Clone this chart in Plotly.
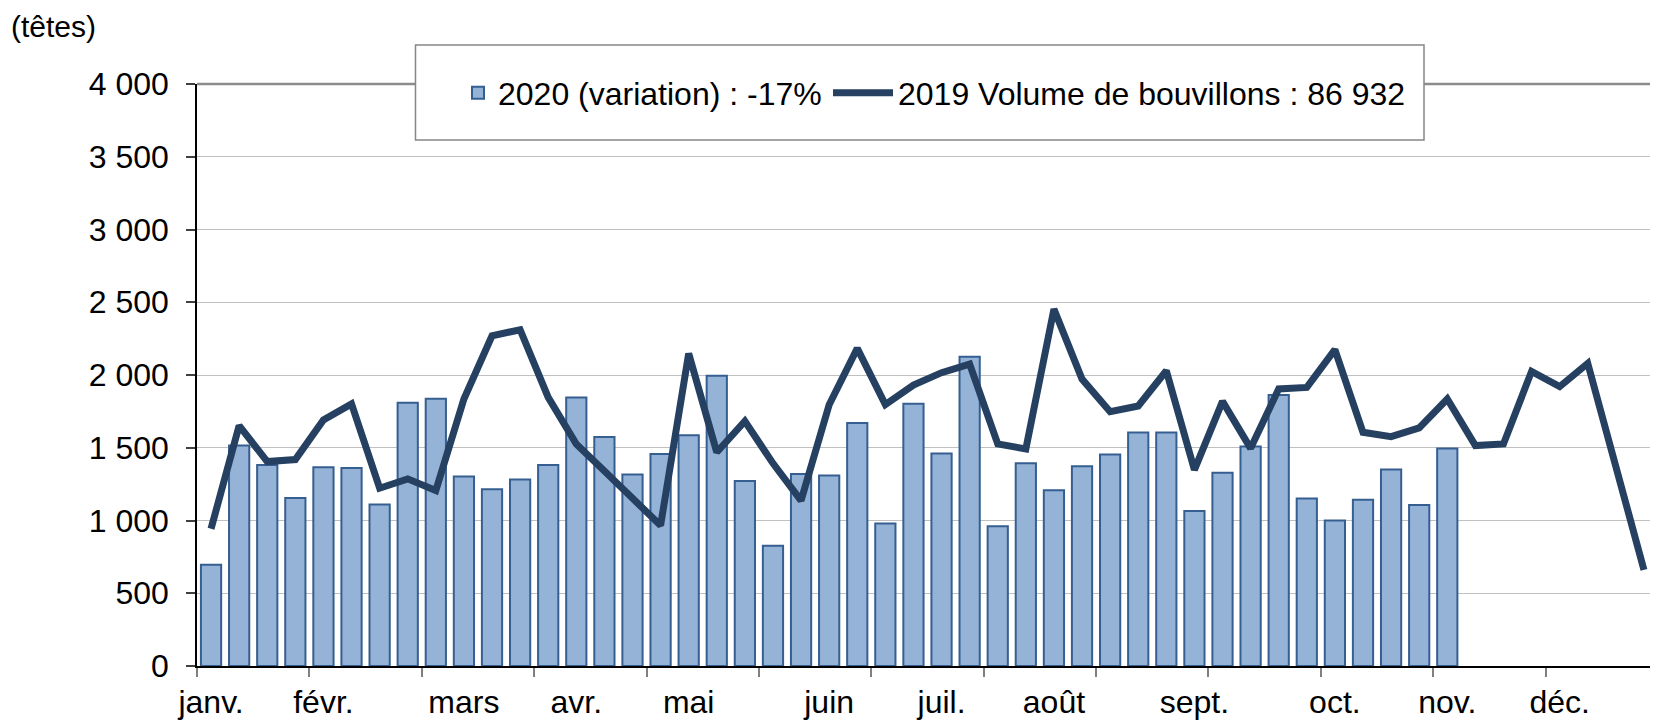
import plotly.graph_objects as go

# ---- data ----
weeks_2020 = list(range(45))
bouvillons_2020 = [696, 1515, 1382, 1155, 1366, 1361, 1110, 1810, 1837, 1302, 1215, 1281,
                   1382, 1846, 1574, 1316, 1457, 1586, 1995, 1272, 826, 1320, 1309, 1670,
                   979, 1803, 1460, 2126, 961, 1393, 1208, 1373, 1453, 1604, 1604, 1066,
                   1329, 1508, 1862, 1151, 1000, 1142, 1350, 1107, 1494]
weeks_2019 = list(range(52))
bouvillons_2019 = [943, 1652, 1405, 1419, 1691, 1801, 1222, 1286, 1206, 1835, 2270, 2311,
                   1846, 1526, 1340, 1150, 966, 2148, 1469, 1682, 1393, 1137, 1796, 2183,
                   1796, 1931, 2016, 2075, 1526, 1492, 2453, 1972, 1748, 1787, 2029, 1348,
                   1819, 1496, 1904, 1915, 2174, 1606, 1576, 1636, 1835, 1515, 1526, 2025,
                   1920, 2080, 1377, 661]
month_labels = ["janv.", "févr.", "mars", "avr.", "mai", "juin", "juil.", "août",
                "sept.", "oct.", "nov.", "déc."]
month_label_weeks = [0, 4, 9, 13, 17, 22, 26, 30, 35, 40, 44, 48]
month_tick_weeks = [w - 0.5 for w in range(0, 53, 4)]
y_ticks = [0, 500, 1000, 1500, 2000, 2500, 3000, 3500, 4000]
name_2020 = "2020 (variation) : -17%"
name_2019 = "2019 Volume de bouvillons : 86 932"

# ---- geometry (pixels, page coords; the page body has an 8px margin) ----
OFF = 8
W, H = 1658 - OFF, 720 - OFF
L, T = 197 - OFF, 84 - OFF
PLOT_BOTTOM = 666 - OFF
R, B = 0, H - PLOT_BOTTOM
PW, PH = W - L - R, H - T - B


def px(x):
    return (x - OFF - L) / PW


def py(y):
    return (PLOT_BOTTOM - (y - OFF)) / PH


FONT = "Liberation Sans, Arial, sans-serif"
FS = 32

fig = go.Figure()
fig.add_trace(go.Bar(
    x=weeks_2020, y=bouvillons_2020, name=name_2020,
    marker=dict(color="#95B3D7", line=dict(color="#365F91", width=2)),
    legend="legend",
))
fig.add_trace(go.Scatter(
    x=weeks_2019, y=bouvillons_2019, name=name_2019, mode="lines",
    line=dict(color="#254061", width=7),
    legend="legend2",
))

fig.update_layout(
    width=W, height=H,
    margin=dict(l=L, r=R, t=T, b=B, autoexpand=False),
    paper_bgcolor="white", plot_bgcolor="white",
    font=dict(family=FONT, size=FS, color="black"),
    separators=", ",
    bargap=0.28,
    showlegend=True,
    legend=dict(x=px(458), y=py(93), xanchor="left", yanchor="middle",
                orientation="h", bgcolor="rgba(0,0,0,0)", borderwidth=0,
                font=dict(family=FONT, size=FS, color="black")),
    legend2=dict(x=px(828), y=py(93), xanchor="left", yanchor="middle",
                 orientation="h", bgcolor="rgba(0,0,0,0)", borderwidth=0,
                 itemwidth=60,
                 font=dict(family=FONT, size=FS, color="black")),
    xaxis=dict(
        range=[-0.5, 51.5], showgrid=False, zeroline=False,
        showline=True, linecolor="black", linewidth=1.5,
        tickmode="array", tickvals=month_label_weeks, ticktext=month_labels,
        ticks="", ticklabelstandoff=7, automargin=False,
        minor=dict(tickmode="array", tickvals=month_tick_weeks, ticks="outside",
                   ticklen=9, tickwidth=1.5, tickcolor="#808080", showgrid=False),
    ),
    yaxis=dict(
        range=[0, 4000], tickmode="array", tickvals=y_ticks,
        separatethousands=True, tickformat=",d",
        showgrid=True, gridcolor="#C0C0C0", gridwidth=1.3,
        zeroline=False, showline=True, linecolor="black", linewidth=1.5,
        ticks="outside", ticklen=9, tickwidth=1.5, tickcolor="#404040",
        ticklabelstandoff=11, automargin=False,
    ),
    shapes=[
        dict(type="line", xref="paper", yref="paper", x0=0, x1=1, y0=1, y1=1,
             line=dict(color="#8C8C8C", width=2.5), layer="below"),
        dict(type="rect", xref="paper", yref="paper",
             x0=px(415.5), x1=px(1424), y0=py(140), y1=py(45),
             fillcolor="white", line=dict(color="#868686", width=1.5), layer="above"),
    ],
    annotations=[
        dict(text="(têtes)", xref="paper", yref="paper", x=px(10), y=py(9),
             xanchor="left", yanchor="top", showarrow=False, borderpad=0,
             font=dict(family=FONT, size=30, color="black")),
    ],
)

fig.write_html("out.html")
